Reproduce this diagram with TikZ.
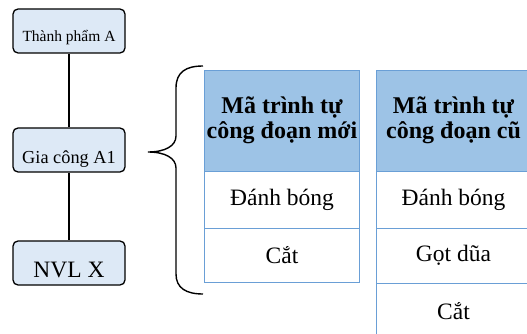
\documentclass[tikz,border=0pt]{standalone}
\usepackage{fontspec}
\setmainfont{Liberation Serif}
\definecolor{boxfill}{HTML}{DDE9F6}
\definecolor{hdrfill}{HTML}{9DC3E6}
\definecolor{cellline}{HTML}{6A9FD6}
\begin{document}
\begin{tikzpicture}[x=1pt,y=-1pt,
  lbox/.style={draw=black, line width=1.3pt, fill=boxfill, rounded corners=5pt,
    minimum width=112pt, minimum height=0pt, inner xsep=0pt, inner ysep=0pt},
  link/.style={draw=black, line width=1.3pt},
  hdr/.style={draw=cellline, line width=0.8pt, fill=hdrfill, align=center,
    minimum width=155pt, minimum height=101pt, inner sep=0pt,
    font=\bfseries\fontsize{24}{24.5}\selectfont},
  cell/.style={draw=cellline, line width=0.8pt, fill=white,
    minimum width=155pt, inner sep=0pt, font=\fontsize{23.5}{24}\selectfont},
  brace/.style={draw=black, line width=1.4pt}
]
\useasboundingbox (0,0) rectangle (527,334);
\clip (0,0) rectangle (527,334);
% left chain
\node[lbox, text height=33pt, text depth=11pt, font=\fontsize{15.5}{16}\selectfont] (tp) at (69,31) {Thành phẩm A};
\node[lbox, text height=35pt, text depth=9pt, font=\fontsize{18.3}{18}\selectfont] (gc) at (69,150) {Gia công A1};
\node[lbox, text height=36pt, text depth=8pt, font=\fontsize{23.5}{24}\selectfont] (nvl) at (69,263) {NVL X};
\draw[link] (tp) -- (gc);
\draw[link] (gc) -- (nvl);
% brace
\draw[brace] (203,66) .. controls (186,66) and (176,72) .. (176,88)
  -- (176,136) .. controls (176,146) and (165,152) .. (148,152)
  .. controls (165,152) and (176,158) .. (176,168)
  -- (176,274) .. controls (176,288) and (186,294) .. (203,294);
% table new
\node[hdr] (h1) at (282,120.5) {Mã trình tự\\công đoạn mới};
\node[cell, minimum height=57pt] (n1) at (282,199.5) {Đánh bóng};
\node[cell, minimum height=54pt] (n2) at (282,255) {Cắt};
% table old
\node[hdr] (h2) at (453.5,120.5) {Mã trình tự\\công đoạn cũ};
\node[cell, minimum height=57pt] (o1) at (453.5,199.5) {Đánh bóng};
\node[cell, minimum height=55pt] (o2) at (453.5,255.5) {Gọt dũa};
\node[cell, minimum height=56pt] (o3) at (453.5,311) {Cắt};
\end{tikzpicture}
\end{document}
